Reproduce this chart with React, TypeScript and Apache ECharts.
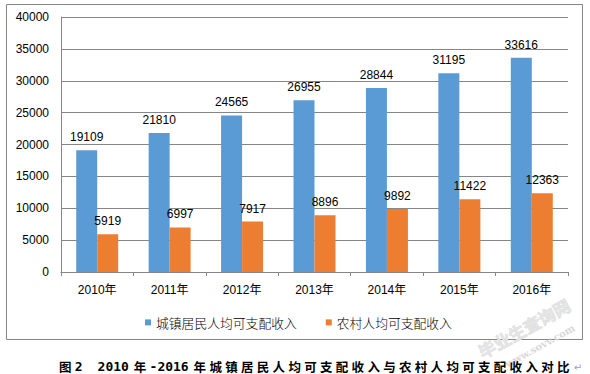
import React, { useEffect, useRef } from "react";
import * as echarts from "echarts";

const categories = ["2010年", "2011年", "2012年", "2013年", "2014年", "2015年", "2016年"];
const urbanIncome = [19109, 21810, 24565, 26955, 28844, 31195, 33616];
const ruralIncome = [5919, 6997, 7917, 8896, 9892, 11422, 12363];
const seriesNames = ["城镇居民人均可支配收入", "农村人均可支配收入"];
const caption = "图2   2010 年-2016 年城镇居民人均可支配收入与农村人均可支配收入对比";

function captionElements(startX: number, centerY: number) {
  const els: any[] = [];
  let x = startX;
  for (const ch of caption) {
    const isCJK = /[\u4e00-\u9fff]/.test(ch);
    const adv = isCJK ? 15.8 : ch === " " ? 5 : 7.8;
    if (ch !== " ") {
      els.push({
        type: "text",
        x,
        y: centerY,
        style: {
          text: ch,
          fill: "#000",
          font: isCJK ? "bold 12.5px 'Noto Sans CJK SC', sans-serif" : "bold 13px 'DejaVu Sans Mono', monospace",
          verticalAlign: "middle",
          align: "left",
        },
      });
    }
    x += adv;
  }
  els.push({
    type: "text",
    x: x + 1,
    y: centerY + 1,
    style: { text: "↵", fill: "#a0a0a0", font: "10px 'DejaVu Sans', sans-serif", verticalAlign: "middle" },
  });
  return els;
}

export default function App() {
  const ref = useRef<HTMLDivElement>(null);
  useEffect(() => {
    const chart = echarts.init(ref.current!, undefined, { renderer: "svg" });
    const font = "'Liberation Sans', Arial, sans-serif";
    chart.setOption({
      animation: false,
      backgroundColor: "#ffffff",
      textStyle: { fontFamily: font },
      grid: { left: 61, right: 22, top: 17, bottom: 102, containLabel: false },
      legend: {
        left: 140,
        top: 311,
        itemWidth: 6,
        itemHeight: 6,
        itemGap: 29,
        icon: "rect",
        textStyle: { fontSize: 12.8, color: "#000", fontFamily: "'Noto Sans CJK SC', sans-serif", fontWeight: 300 },
        data: seriesNames,
      },
      xAxis: {
        type: "category",
        data: categories,
        axisLine: { lineStyle: { color: "#868686", width: 1 } },
        axisTick: { show: true, length: 4, lineStyle: { color: "#868686" } },
        axisLabel: { color: "#000", fontSize: 12, margin: 12, fontFamily: "'Liberation Sans', 'Noto Sans CJK SC', sans-serif" },
      },
      yAxis: {
        type: "value",
        min: 0,
        max: 40000,
        interval: 5000,
        axisLine: { show: true, lineStyle: { color: "#868686", width: 1 } },
        axisTick: { show: false },
        splitLine: { lineStyle: { color: "#868686", width: 1 } },
        axisLabel: { color: "#000", fontSize: 12, margin: 12, formatter: (v: number) => String(v) },
      },
      series: [
        {
          name: seriesNames[0],
          type: "bar",
          data: urbanIncome,
          barWidth: 21,
          barGap: "0%",
          itemStyle: { color: "#5b9bd5" },
          label: { show: true, position: "top", distance: 7, color: "#000", fontSize: 12 },
        },
        {
          name: seriesNames[1],
          type: "bar",
          data: ruralIncome,
          barWidth: 21,
          barGap: "0%",
          itemStyle: { color: "#ed7d31" },
          label: { show: true, position: "top", distance: 7, color: "#000", fontSize: 12 },
        },
      ],
      graphic: [
        {
          type: "rect",
          shape: { x: 6.5, y: 4.5, width: 576, height: 335 },
          style: { fill: "none", stroke: "#868686", lineWidth: 1 },
          silent: true,
        },
        {
          type: "text",
          x: 524,
          y: 328,
          rotation: (29 * Math.PI) / 180,
          style: {
            text: "毕业生查询网",
            fill: "#e4e4e4",
            stroke: "#d0d0d0",
            lineWidth: 0.5,
            font: "bold 17px 'Noto Sans CJK SC', sans-serif",
            align: "center",
            verticalAlign: "middle",
          },
          silent: true,
        },
        {
          type: "text",
          x: 540,
          y: 346,
          rotation: (29 * Math.PI) / 180,
          style: {
            text: "www.sovv.com",
            fill: "#d8d8d8",
            font: "bold 10px 'DejaVu Serif', serif",
            align: "center",
            verticalAlign: "middle",
          },
          silent: true,
        },
        ...captionElements(59, 366),
      ],
    });
    return () => chart.dispose();
  }, []);
  return <div ref={ref} style={{ position: "fixed", left: 0, top: 0, width: 590, height: 374 }} />;
}
